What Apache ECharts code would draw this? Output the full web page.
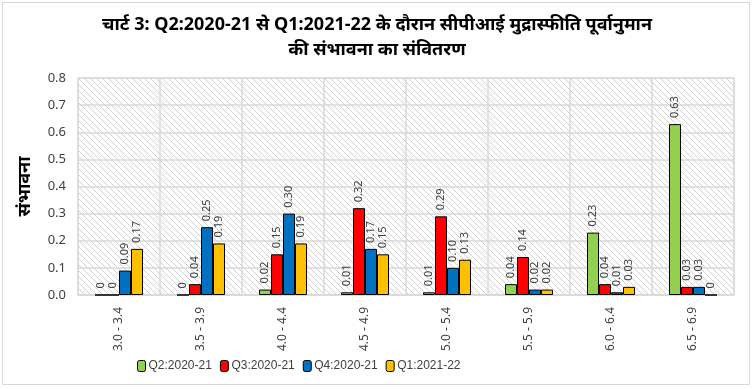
<!DOCTYPE html>
<html><head><meta charset="utf-8">
<script src="https://cdn.jsdelivr.net/npm/echarts@6/dist/echarts.min.js"></script>
<style>html,body{margin:0;padding:0;background:#fff}#c{width:754px;height:389px}</style>
</head><body><div id="c"></div>
<script>
const categories = ['3.0 - 3.4','3.5 - 3.9','4.0 - 4.4','4.5 - 4.9','5.0 - 5.4','5.5 - 5.9','6.0 - 6.4','6.5 - 6.9'];
const seriesNames = ['Q2:2020-21','Q3:2020-21','Q4:2020-21','Q1:2021-22'];
const q2_2020_21 = [0, 0, 0.02, 0.01, 0.01, 0.04, 0.23, 0.63];
const q3_2020_21 = [0, 0.04, 0.15, 0.32, 0.29, 0.14, 0.04, 0.03];
const q4_2020_21 = [0.09, 0.25, 0.30, 0.17, 0.10, 0.02, 0.01, 0.03];
const q1_2021_22 = [0.17, 0.19, 0.19, 0.15, 0.13, 0.02, 0.03, 0];
const yTicks = [0, 0.1, 0.2, 0.3, 0.4, 0.5, 0.6, 0.7, 0.8];
const colors = ['#92D050', '#FF0000', '#0070C0', '#FFC000'];

const pc = document.createElement('canvas');
pc.width = 6; pc.height = 6;
const g = pc.getContext('2d');
g.fillStyle = '#ffffff'; g.fillRect(0,0,6,6);
g.strokeStyle = '#d0d0d0'; g.lineWidth = 1;
g.beginPath(); g.moveTo(-1,-1); g.lineTo(7,7); g.moveTo(-1,5); g.lineTo(1,7); g.moveTo(5,-1); g.lineTo(7,1); g.stroke();

const font = "'Noto Sans', 'DejaVu Sans', sans-serif";
const legFont = "'Liberation Sans', Arial, sans-serif";
const allData = [q2_2020_21, q3_2020_21, q4_2020_21, q1_2021_22];
const chart = echarts.init(document.getElementById('c'));
chart.setOption({
  animation: false,
  graphic: [{type:'rect', shape:{x:2.5,y:2.5,width:747,height:382}, style:{fill:'none', stroke:'#d9d9d9', lineWidth:1}, silent:true}],
  title: {
    text: 'चार्ट 3: Q2:2020-21 से Q1:2021-22 के दौरान सीपीआई मुद्रास्फीति पूर्वानुमान\nकी संभावना का संवितरण',
    left: 372, top: 7, textAlign: 'center',
    textStyle: {fontFamily: font, fontSize: 18, fontWeight: 'bold', color: '#000', lineHeight: 25}
  },
  legend: {
    data: seriesNames, left: 132, top: 355, itemWidth: 8, itemHeight: 11, itemGap: 8,
    textStyle: {fontFamily: legFont, fontSize: 12, color: '#404040', padding: [0,0,0,-2]},
    itemStyle: {borderColor: '#000', borderWidth: 1}
  },
  grid: {left: 78, right: 20, top: 78, bottom: 94, show: true, borderColor: '#d9d9d9', borderWidth: 1,
    backgroundColor: {image: pc, repeat: 'repeat'}},
  xAxis: {
    type: 'category', data: categories,
    axisLine: {lineStyle: {color: '#d9d9d9', width: 1.5}},
    axisTick: {show: false},
    splitLine: {show: true, lineStyle: {color: '#d9d9d9', width: 1.5}},
    axisLabel: {rotate: 90, fontFamily: font, fontSize: 12, color: '#404040', margin: 12, interval: 0}
  },
  yAxis: {
    type: 'value', min: yTicks[0], max: yTicks[yTicks.length-1], interval: 0.1,
    name: 'संभावना', nameLocation: 'middle', nameGap: 44, nameRotate: 90,
    nameTextStyle: {fontFamily: font, fontSize: 18, fontWeight: 'bold', color: '#000'},
    axisLine: {show: false}, axisTick: {show: false},
    splitLine: {lineStyle: {color: '#d9d9d9', width: 1.5}},
    axisLabel: {formatter: v => v.toFixed(1), fontFamily: font, fontSize: 13, color: '#404040', margin: 12}
  },
  series: seriesNames.map((n, i) => ({
    name: n, type: 'bar', data: allData[i], barWidth: 12, barGap: '0%',
    itemStyle: {color: colors[i], borderColor: '#000', borderWidth: 1},
    label: {show: true, position: 'top', rotate: 90, align: 'left', verticalAlign: 'middle', distance: 6,
      fontFamily: font, fontSize: 11, color: '#404040',
      formatter: p => p.value === 0 ? '0' : p.value.toFixed(2)}
  }))
});
</script></body></html>
